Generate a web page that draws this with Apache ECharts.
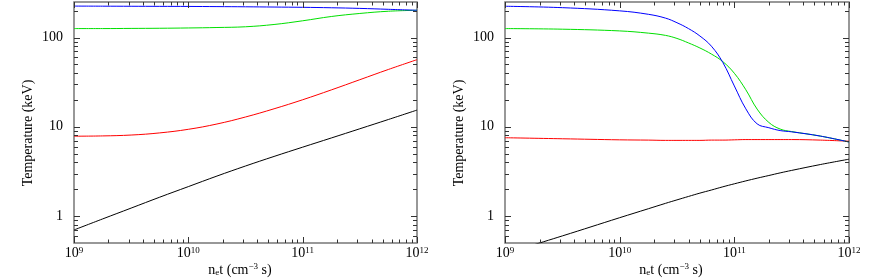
<!DOCTYPE html>
<html>
<head>
<meta charset="utf-8">
<script src="https://cdn.jsdelivr.net/npm/echarts@6/dist/echarts.min.js"></script>
<style>
html,body{margin:0;padding:0;background:#fff;}
#chart{width:872px;height:280px;}
</style>
</head>
<body>
<div id="chart"></div>
<script>
// ---------- data ----------
// left panel: n_e t values (cm^-3 s)
const neT_left = [1e9, 1.78e9, 3.16e9, 5.62e9, 1e10, 1.78e10, 3.16e10, 5.62e10, 1e11, 1.78e11, 3.16e11, 5.62e11, 1e12];
const left_blue  = [225, 224.5, 224, 223.5, 223, 222, 221, 219.5, 218, 215.5, 212, 207, 202];
const left_green = [126, 126, 126.5, 127, 128, 129.5, 132, 140, 154, 172, 186, 197, 202];
const left_red   = [7.85, 7.91, 8.09, 8.55, 9.38, 10.76, 12.88, 15.92, 20.1, 25.9, 33.7, 43.9, 56.5];
const left_black = [0.70, 0.93, 1.23, 1.63, 2.14, 2.81, 3.64, 4.66, 5.92, 7.50, 9.51, 12.08, 15.4];

// right panel
const neT_right = [1e9, 3.16e9, 1e10, 1.78e10, 2.51e10, 3.16e10, 3.98e10, 5.01e10, 6.31e10, 7.94e10, 1e11, 1.26e11, 1.58e11, 2.0e11, 2.51e11, 3.16e11, 5.62e11, 1e12];
const right_blue  = [224, 216, 199, 182, 165, 146.5, 126, 104, 80, 52.5, 28.7, 15.9, 10.8, 9.77, 9.08, 8.79, 7.88, 6.76];
const right_green = [126, 124, 118.6, 112, 105.7, 97.7, 87, 76.4, 65.3, 53.7, 39.8, 26, 15.8, 11.2, 9.44, 8.85, 7.88, 6.76];
const right_red   = [7.55, 7.35, 7.15, 7.1, 7.05, 7.05, 7.05, 7.05, 7.1, 7.1, 7.15, 7.2, 7.2, 7.2, 7.2, 7.2, 7.1, 6.9];
const right_black = [0.38, 0.6, 0.96, 1.21, 1.39, 1.52, 1.66, 1.81, 1.96, 2.13, 2.30, 2.48, 2.66, 2.85, 3.05, 3.25, 3.78, 4.34];

// axis ticks
const xMajorTicks = [1e9, 1e10, 1e11, 1e12];
const xMinorTicks = [2e9,3e9,4e9,5e9,6e9,7e9,8e9,9e9, 2e10,3e10,4e10,5e10,6e10,7e10,8e10,9e10, 2e11,3e11,4e11,5e11,6e11,7e11,8e11,9e11];
const yMajorTicks = [1, 10, 100];
const yMinorTicks = [0.6,0.7,0.8,0.9, 2,3,4,5,6,7,8,9, 20,30,40,50,60,70,80,90, 200];
const X_MIN = 1e9, X_MAX = 1e12, Y_MIN = 0.5, Y_MAX = 250;

const yTitle = 'Temperature (keV)';

// ---------- chart ----------
const FONT = '"Liberation Serif", "Times New Roman", serif';
const chart = echarts.init(document.getElementById('chart'), null, {renderer: 'canvas'});

function pairs(xs, ys){ return xs.map((x, i) => [x, ys[i]]); }

const tickData = [];
xMajorTicks.forEach(v => tickData.push([v, Y_MIN, 0]));
xMinorTicks.forEach(v => tickData.push([v, Y_MIN, 1]));
yMajorTicks.forEach(v => tickData.push([X_MIN, v, 2]));
yMinorTicks.forEach(v => tickData.push([X_MIN, v, 3]));

function renderTick(params, api){
  const kind = api.value(2);
  const st = {stroke: '#333', lineWidth: 1};
  if (kind < 2) {
    const v = api.value(0);
    const a = api.coord([v, Y_MIN]);
    const b = api.coord([v, Y_MAX]);
    const len = kind === 0 ? 6 : 3.5;
    const x = Math.round(a[0]) + 0.5;
    return {type: 'group', children: [
      {type: 'line', shape: {x1: x, y1: a[1], x2: x, y2: a[1] - len}, style: st},
      {type: 'line', shape: {x1: x, y1: b[1], x2: x, y2: b[1] + len}, style: st}
    ]};
  } else {
    const v = api.value(1);
    const a = api.coord([X_MIN, v]);
    const b = api.coord([X_MAX, v]);
    const len = kind === 2 ? 6 : 4;
    const y = Math.round(a[1]) + 0.5;
    return {type: 'group', children: [
      {type: 'line', shape: {x1: a[0], y1: y, x2: a[0] + len, y2: y}, style: st},
      {type: 'line', shape: {x1: b[0], y1: y, x2: b[0] - len, y2: y}, style: st}
    ]};
  }
}

function xAxisCfg(gi){
  return {
    type: 'log', logBase: 10, gridIndex: gi, min: X_MIN, max: X_MAX,
    axisLine: {show: false}, axisTick: {show: false}, splitLine: {show: false},
    axisLabel: {
      margin: 3,
      formatter: v => '{b|10}{s|' + Math.round(Math.log10(v)) + '}',
      rich: {
        b: {fontSize: 14, fontFamily: FONT, color: '#000', lineHeight: 14},
        s: {fontSize: 9, fontFamily: FONT, color: '#000', verticalAlign: 'top', lineHeight: 9}
      }
    }
  };
}
function yAxisCfg(gi){
  return {
    type: 'log', logBase: 10, gridIndex: gi, min: Y_MIN, max: Y_MAX,
    axisLine: {show: false}, axisTick: {show: false}, splitLine: {show: false},
    axisLabel: {
      margin: 11, fontSize: 14, fontFamily: FONT, color: '#000',
      formatter: v => {
        const e = Math.log10(v);
        return Math.abs(e - Math.round(e)) < 1e-6 ? String(Math.round(v)) : '';
      }
    }
  };
}
function lineSeries(gi, xs, ys, color){
  return {
    type: 'line', xAxisIndex: gi, yAxisIndex: gi, data: pairs(xs, ys),
    showSymbol: false, smooth: 0.4, clip: true,
    lineStyle: {color: color, width: 1}, itemStyle: {color: color},
    silent: true, animation: false
  };
}
function tickSeries(gi){
  return {type: 'custom', xAxisIndex: gi, yAxisIndex: gi, data: tickData,
    renderItem: renderTick, silent: true, animation: false, z: 5};
}

const xTitleRich = {
  n: {fontSize: 14, fontFamily: FONT, color: '#000'},
  sub: {fontSize: 9, fontFamily: FONT, color: '#000', verticalAlign: 'bottom', padding: [6, 0, 0, 0]},
  sup: {fontSize: 9, fontFamily: FONT, color: '#000', verticalAlign: 'top', padding: [0, 0, 6, 0]}
};
const xTitleText = '{n|n}{sub|e}{n|t (cm}{sup|−3}{n| s)}';

function titles(cx, yx){
  return [
    {type: 'text', x: cx, y: 270, style: {text: xTitleText, rich: xTitleRich, align: 'center', verticalAlign: 'middle'}},
    {type: 'text', x: yx, y: 133, rotation: Math.PI / 2,
     style: {text: yTitle, font: '14px ' + FONT, fill: '#000', align: 'center', verticalAlign: 'middle'}}
  ];
}

const gridStyle = {show: true, borderColor: '#777', borderWidth: 1.5, backgroundColor: 'transparent', containLabel: false};

chart.setOption({
  animation: false,
  backgroundColor: '#fff',
  grid: [
    Object.assign({left: 74, top: 2, width: 343, height: 241}, gridStyle),
    Object.assign({left: 505, top: 2, width: 344, height: 241}, gridStyle)
  ],
  xAxis: [xAxisCfg(0), xAxisCfg(1)],
  yAxis: [yAxisCfg(0), yAxisCfg(1)],
  graphic: titles(240, 28).concat(titles(671, 459)),
  series: [
    lineSeries(0, neT_left, left_black, '#000000'),
    lineSeries(0, neT_left, left_red, '#ff0000'),
    lineSeries(0, neT_left, left_green, '#00e000'),
    lineSeries(0, neT_left, left_blue, '#0000ff'),
    tickSeries(0),
    lineSeries(1, neT_right, right_black, '#000000'),
    lineSeries(1, neT_right, right_red, '#ff0000'),
    lineSeries(1, neT_right, right_green, '#00e000'),
    lineSeries(1, neT_right, right_blue, '#0000ff'),
    tickSeries(1)
  ]
});
</script>
</body>
</html>
